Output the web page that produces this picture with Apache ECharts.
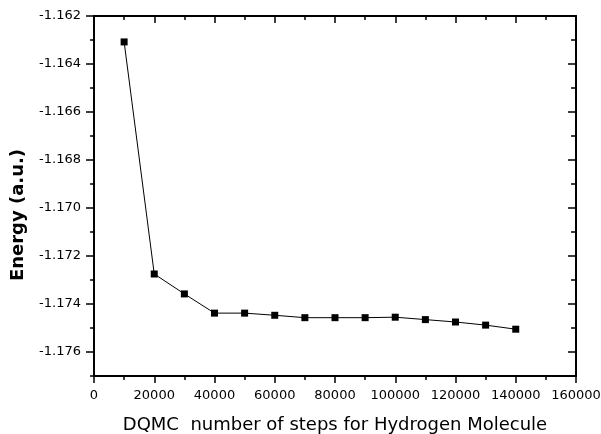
<!DOCTYPE html>
<html>
<head>
<meta charset="utf-8">
<script src="https://cdn.jsdelivr.net/npm/echarts@6/dist/echarts.min.js"></script>
<style>
html,body{margin:0;padding:0;background:#fff;}
#chart{width:601px;height:434px;}
</style>
</head>
<body>
<div id="chart"></div>
<script>
const steps = [10000, 20000, 30000, 40000, 50000, 60000, 70000, 80000, 90000, 100000, 110000, 120000, 130000, 140000];
const energy = [-1.16308, -1.17275, -1.17358, -1.17438, -1.17438, -1.17447, -1.17457, -1.17457, -1.17457, -1.17455, -1.17465, -1.17475, -1.17488, -1.17505];
const yTickLabels = [-1.176, -1.174, -1.172, -1.170, -1.168, -1.166, -1.164, -1.162];
const xTitle = 'DQMC  number of steps for Hydrogen Molecule';
const yTitle = 'Energy (a.u.)';

const FONT = 'DejaVu Sans';
const chart = echarts.init(document.getElementById('chart'), null, {renderer: 'canvas'});

const lineStyle = {color: '#000', width: 2};
const hide = {show: false};

function yAxisBase(pos, extra) {
  return Object.assign({
    type: 'value', position: pos, min: -1.177, max: -1.162,
    splitLine: hide, axisLine: {show: true, onZero: false, lineStyle: lineStyle},
    axisLabel: hide
  }, extra);
}

const option = {
  backgroundColor: '#fff',
  animation: false,
  grid: {left: 94, right: 25, top: 16, bottom: 58, containLabel: false, outerBoundsMode: 'none'},
  xAxis: [
    {
      type: 'value', position: 'bottom', min: 0, max: 160000, interval: 20000,
      name: xTitle, nameLocation: 'middle', nameGap: 40,
      nameTextStyle: {fontFamily: FONT, fontSize: 18, color: '#000'},
      axisLine: {onZero: false, lineStyle: lineStyle},
      axisTick: {inside: false, length: 7, lineStyle: {color: '#000', width: 1.5}},
      minorTick: {show: true, splitNumber: 2, length: 4, lineStyle: {color: '#000', width: 1.5}},
      axisLabel: {fontFamily: FONT, fontSize: 13, color: '#000', margin: 13, formatter: v => String(v), hideOverlap: false},
      splitLine: hide, minorSplitLine: hide
    },
    {
      type: 'value', position: 'top', min: 0, max: 160000, interval: 20000,
      axisLine: {onZero: false, lineStyle: lineStyle},
      axisTick: {inside: true, length: 7, lineStyle: {color: '#000', width: 1.5}},
      minorTick: {show: true, splitNumber: 2, length: 4, lineStyle: {color: '#000', width: 1.5}},
      axisLabel: hide, splitLine: hide, minorSplitLine: hide
    }
  ],
  yAxis: [
    yAxisBase('left', {
      interval: 0.001,
      axisTick: {inside: false, length: 4, lineStyle: {color: '#000', width: 1.5}},
      axisLabel: {
        show: true, customValues: yTickLabels, fontFamily: FONT, fontSize: 13, color: '#000', margin: 13,
        formatter: v => v.toFixed(3)
      }
    }),
    yAxisBase('left', {
      axisTick: {inside: false, length: 8, customValues: yTickLabels, lineStyle: {color: '#000', width: 1.5}}
    }),
    yAxisBase('right', {
      interval: 0.001,
      axisTick: {inside: true, length: 5, lineStyle: {color: '#000', width: 1.5}}
    }),
    yAxisBase('right', {
      axisTick: {inside: true, length: 8, customValues: yTickLabels, lineStyle: {color: '#000', width: 1.5}}
    })
  ],
  graphic: [{
    type: 'text', x: 18, y: 215, rotation: Math.PI / 2,
    style: {text: yTitle, font: 'bold 18px "DejaVu Sans"', fill: '#000', align: 'center', verticalAlign: 'middle'}
  }],
  series: [{
    type: 'line', xAxisIndex: 0, yAxisIndex: 0,
    data: steps.map((s, i) => [s, energy[i]]),
    symbol: 'rect', symbolSize: 7,
    itemStyle: {color: '#000'},
    lineStyle: {color: '#000', width: 1}
  }]
};
chart.setOption(option);
</script>
</body>
</html>
